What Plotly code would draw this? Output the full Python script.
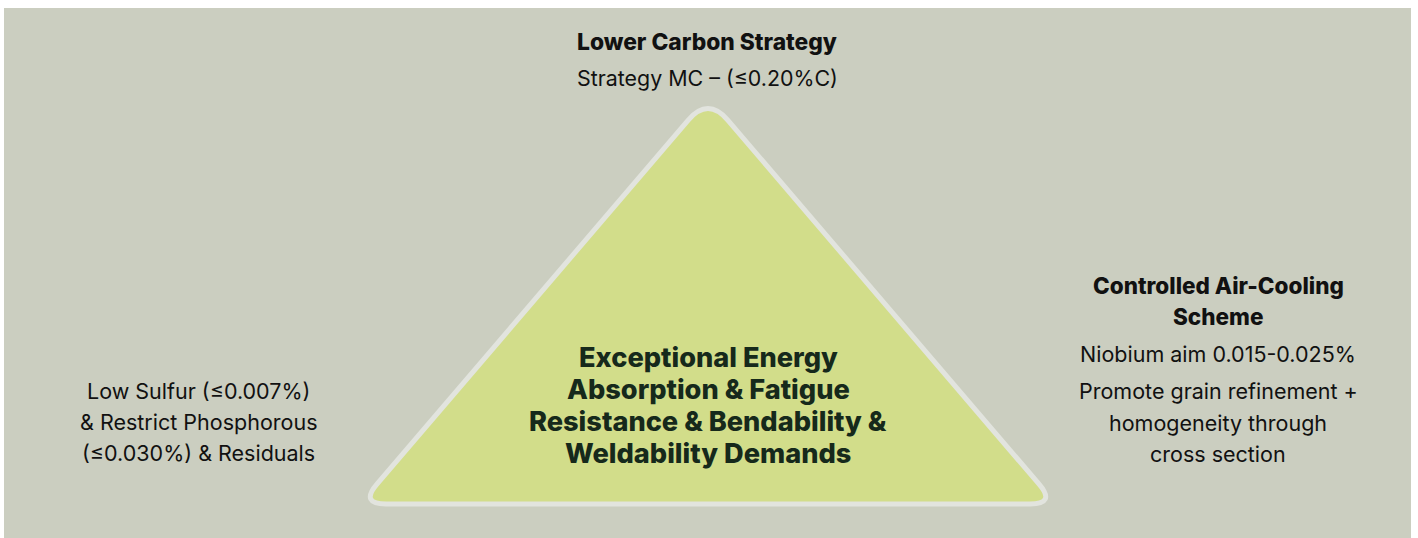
import math
import plotly.graph_objects as go

# ---- content ----
top_title = "Lower Carbon Strategy"
top_lines = ["Strategy MC – (≤0.20%C)"]
left_lines = ["Low Sulfur (≤0.007%)", "& Restrict Phosphorous", "(≤0.030%) & Residuals"]
right_title = ["Controlled Air-Cooling", "Scheme"]
right_lines = ["Niobium aim 0.015-0.025%", "Promote grain refinement +", "homogeneity through", "cross section"]
center_lines = ["Exceptional Energy", "Absorption & Fatigue", "Resistance & Bendability &", "Weldability Demands"]

W, H = 1418, 538
BG = "#cbcec0"
TRI_FILL = "#d2dd8a"
TRI_LINE = "#e2e4de"
TXT = "#111111"
CTXT = "#16291b"
FONT = "Inter"


def rounded_polygon(pts, radii):
    n = len(pts)
    segs = []
    for i in range(n):
        p0 = pts[i - 1]
        p1 = pts[i]
        p2 = pts[(i + 1) % n]
        v1 = (p0[0] - p1[0], p0[1] - p1[1])
        v2 = (p2[0] - p1[0], p2[1] - p1[1])
        l1 = math.hypot(*v1)
        l2 = math.hypot(*v2)
        u1 = (v1[0] / l1, v1[1] / l1)
        u2 = (v2[0] / l2, v2[1] / l2)
        ang = math.acos(u1[0] * u2[0] + u1[1] * u2[1])
        d = radii[i] / math.tan(ang / 2)
        a = (p1[0] + u1[0] * d, p1[1] + u1[1] * d)
        b = (p1[0] + u2[0] * d, p1[1] + u2[1] * d)
        segs.append((a, p1, b))
    path = f"M {segs[0][0][0]:.2f},{segs[0][0][1]:.2f} "
    for i, (a, c, b) in enumerate(segs):
        if i > 0:
            path += f"L {a[0]:.2f},{a[1]:.2f} "
        path += f"Q {c[0]:.2f},{c[1]:.2f} {b[0]:.2f},{b[1]:.2f} "
    path += f"L {segs[0][0][0]:.2f},{segs[0][0][1]:.2f} Z"
    return path


tri = [(708, 97), (1056, 504), (360, 504)]
tri_path = rounded_polygon(tri, [26, 12, 12])

fig = go.Figure()
fig.add_trace(go.Scatter(x=[0, W], y=[0, H], mode="markers",
                         marker=dict(opacity=0), hoverinfo="skip", showlegend=False))

fig.add_shape(type="rect", xref="x", yref="y", x0=4, y0=8, x1=1411, y1=H + 5,
              fillcolor=BG, line=dict(width=0), layer="below")
fig.add_shape(type="path", xref="x", yref="y", path=tri_path,
              fillcolor=TRI_FILL, line=dict(color=TRI_LINE, width=5), layer="below")


def add_line(text, x, y, size, bold=False, color=TXT):
    fig.add_annotation(x=x, y=y, xref="x", yref="y", text=text,
                       showarrow=False, xanchor="center", yanchor="middle",
                       font=dict(family=FONT, size=size, color=color,
                                 weight=800 if bold else 400))


add_line(top_title, 707, 41, 22.8, bold=True)
for i, t in enumerate(top_lines):
    add_line(t, 707, 78 + i * 31, 21.4)

for i, t in enumerate(left_lines):
    add_line(t, 198, 391 + i * 31, 21.5)

for i, t in enumerate(right_title):
    add_line(t, 1218, 285 + i * 31, 22.5, bold=True)
for i, t in enumerate(right_lines):
    y = 354 if i == 0 else 391 + (i - 1) * 31.5
    add_line(t, 1218, y, 21.5)

for i, t in enumerate(center_lines):
    add_line(t, 708, 357 + i * 32, 27.2, bold=True, color=CTXT)

fig.update_layout(
    width=W, height=H,
    margin=dict(l=0, r=0, t=0, b=0),
    paper_bgcolor="white", plot_bgcolor="white",
    xaxis=dict(range=[0, W], visible=False, fixedrange=True),
    yaxis=dict(range=[H, 0], visible=False, fixedrange=True),
    showlegend=False,
)

fig.write_html("out.html", config={"displayModeBar": False, "staticPlot": True},
               post_script="document.body.style.margin='0';")
